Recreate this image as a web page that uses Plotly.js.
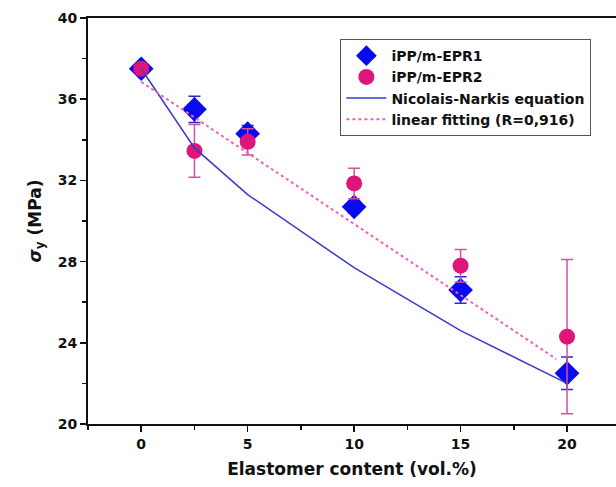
<!DOCTYPE html>
<html>
<head>
<meta charset="utf-8">
<script src="https://cdn.plot.ly/plotly-3.0.1.min.js"></script>
<style>html,body{margin:0;padding:0;background:#fff;}#chart{width:616px;height:487px;}</style>
</head>
<body>
<div id="chart"></div>
<script>
// Data
const content = [0, 2.5, 5, 10, 15, 20];
const epr1 = [37.5, 35.5, 34.3, 30.7, 26.6, 22.5];
const epr1Err = [0.15, 0.65, 0.4, 0.3, 0.65, 0.8];
const epr2 = [37.5, 33.45, 33.9, 31.85, 27.8, 24.3];
const epr2Err = [0.15, 1.3, 0.65, 0.75, 0.8, 3.8];
const nicolaisX = [0, 2.5, 5, 10, 15, 20];
const nicolaisY = [37.5, 33.6, 31.3, 27.7, 24.6, 22.0];
const fitX = [0, 19.5];
const fitY = [36.85, 23.2];
const xTicks = [0, 5, 10, 15, 20];
const yTicks = [20, 24, 28, 32, 36, 40];

const FAM = 'DejaVu Sans, Liberation Sans, Arial, sans-serif';
const bold = {family: FAM, size: 14, color: '#111', weight: 'bold'};

const traces = [
  {
    x: content, y: epr1, name: 'iPP/m-EPR1', type: 'scatter', mode: 'markers',
    marker: {symbol: 'diamond', size: 19, color: '#0a0af0'},
    error_y: {type: 'data', array: epr1Err, color: '#2a2ad0', thickness: 1.5, width: 6}
  },
  {
    x: content, y: epr2, name: 'iPP/m-EPR2', type: 'scatter', mode: 'markers',
    marker: {symbol: 'circle', size: 16, color: '#e0157a'},
    error_y: {type: 'data', array: epr2Err, color: '#d8509c', thickness: 1.5, width: 6}
  },
  {
    x: nicolaisX, y: nicolaisY, name: 'Nicolais-Narkis equation', type: 'scatter', mode: 'lines',
    line: {color: '#3a3ac8', width: 1.5}
  },
  {
    x: fitX, y: fitY, name: 'linear fitting (R=0,916)', type: 'scatter', mode: 'lines',
    line: {color: '#f060c0', width: 2, dash: 'dot'}
  }
];

const layout = {
  width: 616, height: 487,
  margin: {l: 88, r: 0, t: 18, b: 63},
  paper_bgcolor: '#fff', plot_bgcolor: '#fff',
  showlegend: true,
  legend: {
    x: 0.478, y: 0.948, xanchor: 'left', yanchor: 'top',
    bordercolor: '#555', borderwidth: 1, bgcolor: '#fff',
    font: {family: FAM, size: 14, color: '#111', weight: 'bold'},
    tracegroupgap: 0, itemwidth: 40
  },
  xaxis: {
    range: [-2.5, 22.3], tickvals: xTicks, ticktext: xTicks.map(String),
    ticks: 'outside', ticklen: 6, tickwidth: 1.5, tickcolor: '#111',
    minor: {dtick: 2.5, tick0: 0, ticks: 'outside', ticklen: 4, tickcolor: '#111', tickwidth: 1.5},
    showline: true, linecolor: '#111', linewidth: 2, mirror: true,
    showgrid: false, zeroline: false, tickfont: bold,
    title: {text: 'Elastomer content (vol.%)', standoff: 12,
      font: {family: FAM, size: 17, color: '#111', weight: 'bold'}}
  },
  yaxis: {
    range: [20, 40], tickvals: yTicks, ticktext: yTicks.map(String),
    ticks: 'outside', ticklen: 6, tickwidth: 1.5, tickcolor: '#111',
    minor: {dtick: 2, tick0: 20, ticks: 'outside', ticklen: 4, tickcolor: '#111', tickwidth: 1.5},
    showline: true, linecolor: '#111', linewidth: 2, mirror: false,
    showgrid: false, zeroline: false, tickfont: bold,
    title: {text: '<i>σ</i><sub>y</sub> (MPa)', standoff: 12,
      font: {family: FAM, size: 17, color: '#111', weight: 'bold'}}
  }
};

Plotly.newPlot('chart', traces, layout, {displayModeBar: false, staticPlot: true});
</script>
</body>
</html>
